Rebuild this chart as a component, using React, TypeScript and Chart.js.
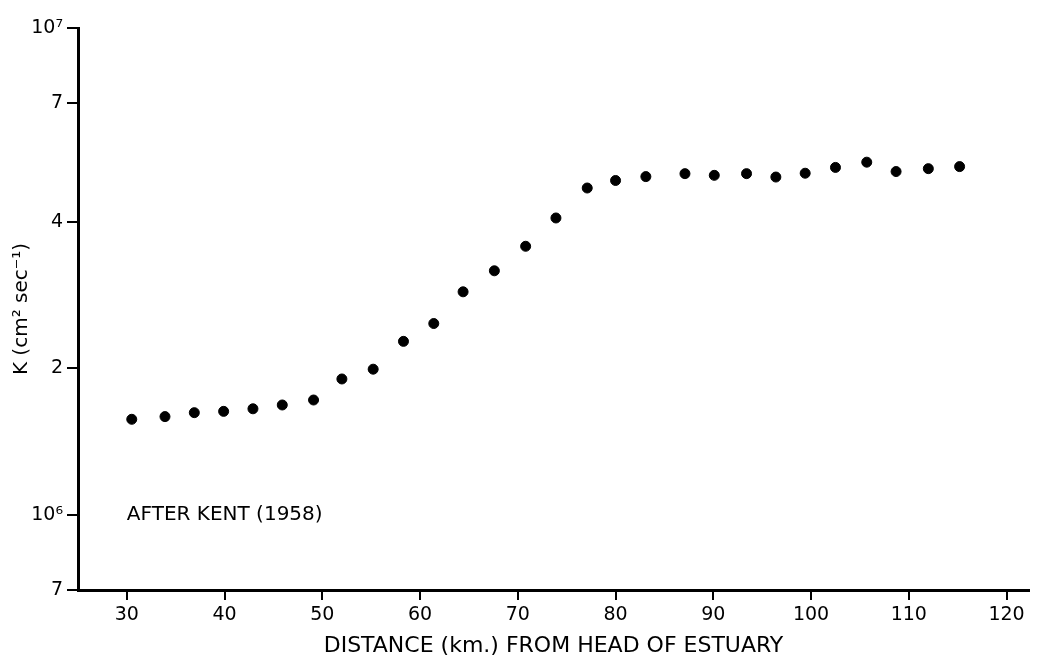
import React, { useEffect, useRef } from "react";
import { Chart, registerables } from "chart.js";

Chart.register(...registerables);

// Distance from head of estuary (km)
const distanceKm = [
  30.5, 33.9, 36.9, 39.9, 42.9, 45.9, 49.1, 52.0, 55.2, 58.3, 61.4, 64.4, 67.6, 70.8,
  73.9, 77.1, 80.0, 83.1, 87.1, 90.1, 93.4, 96.4, 99.4, 102.5, 105.7, 108.7, 112.0, 115.2,
];
// K in units of 10^6 cm^2 sec^-1
const kMillions = [
  1.57, 1.59, 1.62, 1.63, 1.65, 1.68, 1.72, 1.9, 1.99, 2.27, 2.47, 2.87, 3.17, 3.56,
  4.07, 4.69, 4.86, 4.95, 5.02, 4.98, 5.02, 4.94, 5.03, 5.17, 5.3, 5.07, 5.14, 5.19,
];

const xTicks = [30, 40, 50, 60, 70, 80, 90, 100, 110, 120];
const yTicks = [7e5, 1e6, 2e6, 4e6, 7e6, 1e7];
const yTickLabels = ["7", "10⁶", "2", "4", "7", "10⁷"];

const xTitle = "DISTANCE (km.) FROM HEAD OF ESTUARY";
const yTitle = "K (cm² sec⁻¹)";
const note = "AFTER KENT (1958)";

const FONT = "'DejaVu Sans', 'Liberation Sans', sans-serif";

const notePlugin = {
  id: "notePlugin",
  afterDraw(chart: any) {
    const { ctx, scales } = chart;
    const x = scales.x.getPixelForValue(30);
    const y = scales.y.getPixelForValue(1e6);
    ctx.save();
    ctx.font = `20px ${FONT}`;
    ctx.fillStyle = "#000";
    ctx.textAlign = "left";
    ctx.textBaseline = "middle";
    ctx.fillText(note, x, y);
    ctx.restore();
  },
};

export default function App() {
  const ref = useRef<HTMLCanvasElement | null>(null);

  useEffect(() => {
    if (!ref.current) return;
    const data = distanceKm.map((d, i) => ({ x: d, y: kMillions[i] * 1e6 }));
    const chart = new Chart(ref.current, {
      type: "scatter",
      data: {
        datasets: [
          {
            data,
            backgroundColor: "#000",
            borderColor: "#000",
            pointRadius: 5,
            pointHoverRadius: 5,
            showLine: false,
          },
        ],
      },
      options: {
        responsive: false,
        animation: false,
        layout: { padding: { left: 0, top: 28, right: 22, bottom: 0 } },
        plugins: {
          legend: { display: false },
          tooltip: { enabled: false },
        },
        scales: {
          x: {
            type: "linear",
            min: 25,
            max: 122.3,
            afterBuildTicks: (scale: any) => {
              scale.ticks = xTicks.map((v) => ({ value: v }));
            },
            afterFit: (scale: any) => {
              scale.height = 69;
            },
            grid: {
              drawOnChartArea: false,
              drawTicks: true,
              tickLength: 10,
              color: "#000",
              lineWidth: 2,
            },
            border: { display: true, color: "#000", width: 3 },
            ticks: {
              color: "#000",
              font: { family: FONT, size: 19 },
              padding: 4,
              maxRotation: 0,
              autoSkip: false,
              callback: (v: any) => String(v),
            },
            title: {
              display: true,
              text: xTitle,
              color: "#000",
              font: { family: FONT, size: 22 },
              padding: { top: 0, bottom: 0 },
            },
          },
          y: {
            type: "logarithmic",
            min: 7e5,
            max: 1e7,
            afterBuildTicks: (scale: any) => {
              scale.ticks = yTicks.map((v) => ({ value: v }));
            },
            afterFit: (scale: any) => {
              scale.width = 78;
            },
            grid: {
              drawOnChartArea: false,
              drawTicks: true,
              tickLength: 11,
              color: "#000",
              lineWidth: 2,
            },
            border: { display: true, color: "#000", width: 3 },
            ticks: {
              color: "#000",
              font: { family: FONT, size: 19 },
              padding: 4,
              autoSkip: false,
              callback: (v: any) => {
                const i = yTicks.indexOf(Number(v));
                return i >= 0 ? yTickLabels[i] : "";
              },
            },
            title: {
              display: true,
              text: yTitle,
              color: "#000",
              font: { family: FONT, size: 20 },
              padding: { top: 10, bottom: 0 },
            },
          },
        },
      },
      plugins: [notePlugin],
    });
    return () => chart.destroy();
  }, []);

  return (
    <div style={{ position: "absolute", left: 0, top: 0, width: 1051, height: 659, background: "#fff" }}>
      <canvas ref={ref} width={1051} height={659} style={{ display: "block" }} />
    </div>
  );
}
